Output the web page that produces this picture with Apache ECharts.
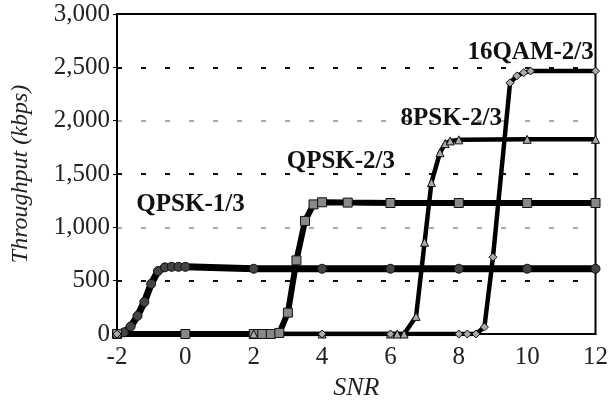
<!DOCTYPE html>
<html>
<head>
<meta charset="utf-8">
<script src="https://cdn.jsdelivr.net/npm/echarts@6/dist/echarts.min.js"></script>
<style>
  html, body { margin: 0; padding: 0; background: #fff; }
  #chart { width: 611px; height: 406px; }
</style>
</head>
<body>
<div id="chart"></div>
<script>
// Throughput (kbps) versus SNR for four modulation/coding schemes
const snrQpsk13 = [-2, -1.8, -1.6, -1.4, -1.2, -1.0, -0.8, -0.6, -0.4, -0.2, 0, 2, 4, 6, 8, 10, 12];
const thrQpsk13 = [0, 15, 70, 170, 300, 470, 590, 625, 630, 630, 630, 612, 612, 612, 612, 612, 612];

const snrQpsk23 = [-2, 0, 2, 2.25, 2.5, 2.75, 3, 3.25, 3.5, 3.75, 4, 4.75, 6, 8, 10, 12];
const thrQpsk23 = [0, 0, 0, 0, 0, 10, 200, 690, 1060, 1215, 1235, 1232, 1228, 1228, 1228, 1228];

const snr8psk23 = [-2, 2, 4, 6, 6.2, 6.4, 6.75, 7, 7.2, 7.45, 7.6, 7.75, 8, 10, 12];
const thr8psk23 = [0, 0, 0, 0, 0, 0, 165, 860, 1420, 1700, 1785, 1810, 1820, 1825, 1825];

const snr16qam23 = [-2, 4, 6, 8, 8.25, 8.5, 8.75, 9, 9.5, 9.7, 9.9, 10.1, 12];
const thr16qam23 = [0, 0, 0, 0, 0, 0, 65, 720, 2355, 2420, 2450, 2465, 2465];

const seriesNames = ['QPSK-1/3', 'QPSK-2/3', '8PSK-2/3', '16QAM-2/3'];
const xTicks = { min: -2, max: 12, step: 2 };
const yTicks = { min: 0, max: 3000, step: 500 };

const pair = (xs, ys) => xs.map((x, i) => [x, ys[i]]);
const serif = 'Liberation Serif, Times New Roman, serif';

// one curve, with its scheme name written near the saturation level
function curve(name, data, symbol, size, fill, width, labelAt) {
  return {
    name: name,
    type: 'line',
    data: data,
    symbol: symbol,
    symbolSize: size,
    showAllSymbol: true,
    lineStyle: { color: '#000', width: width },
    itemStyle: { color: fill, borderColor: '#111', borderWidth: 1 },
    emphasis: { disabled: true },
    animation: false,
    markPoint: {
      symbol: 'circle',
      symbolSize: 1,
      silent: true,
      itemStyle: { color: 'rgba(0,0,0,0)', borderWidth: 0 },
      data: [{
        coord: labelAt,
        label: {
          show: true,
          position: 'inside',
          formatter: name,
          fontFamily: serif,
          fontWeight: 'bold',
          fontSize: 25,
          color: '#111'
        }
      }]
    }
  };
}

const chart = echarts.init(document.getElementById('chart'), null, { renderer: 'canvas' });
chart.setOption({
  backgroundColor: '#fff',
  animation: false,
  grid: {
    left: 117, right: 13, top: 14, bottom: 71,
    show: true, borderColor: '#000', borderWidth: 2, backgroundColor: 'transparent'
  },
  xAxis: {
    type: 'value',
    min: xTicks.min, max: xTicks.max, interval: xTicks.step,
    name: 'SNR',
    nameLocation: 'middle',
    nameGap: 41,
    nameTextStyle: { fontFamily: serif, fontStyle: 'italic', fontSize: 26, color: '#222' },
    axisLine: { show: true, onZero: false, lineStyle: { color: '#000', width: 2 } },
    axisTick: { show: false },
    axisLabel: { fontFamily: serif, fontSize: 25, color: '#222', margin: 11 },
    splitLine: { show: false }
  },
  yAxis: {
    type: 'value',
    min: yTicks.min, max: yTicks.max, interval: yTicks.step,
    name: 'Throughput (kbps)',
    nameLocation: 'middle',
    nameGap: 84,
    nameTextStyle: { fontFamily: serif, fontStyle: 'italic', fontSize: 24, color: '#222' },
    axisLine: { show: true, onZero: false, lineStyle: { color: '#000', width: 2 } },
    axisTick: { show: true, inside: false, length: 4, lineStyle: { color: '#000', width: 1 } },
    axisLabel: {
      fontFamily: serif, fontSize: 25, color: '#222', margin: 7,
      formatter: v => v.toLocaleString('en-US')
    },
    splitLine: {
      show: true,
      lineStyle: {
        color: ['#000', '#111', '#aaa', '#111', '#aaa', '#111', '#000'],
        width: 2,
        type: [5, 19]
      }
    }
  },
  series: [
    curve(seriesNames[0], pair(snrQpsk13, thrQpsk13), 'circle', 9, '#444', 7, [0.15, 1215]),
    curve(seriesNames[1], pair(snrQpsk23, thrQpsk23), 'rect', 9, '#888', 6, [4.55, 1620]),
    curve(seriesNames[2], pair(snr8psk23, thr8psk23), 'triangle', 8, '#aaa', 4.5, [7.78, 2020]),
    curve(seriesNames[3], pair(snr16qam23, thr16qam23), 'diamond', 8, '#aaa', 4.5, [10.1, 2640])
  ]
});
</script>
</body>
</html>
